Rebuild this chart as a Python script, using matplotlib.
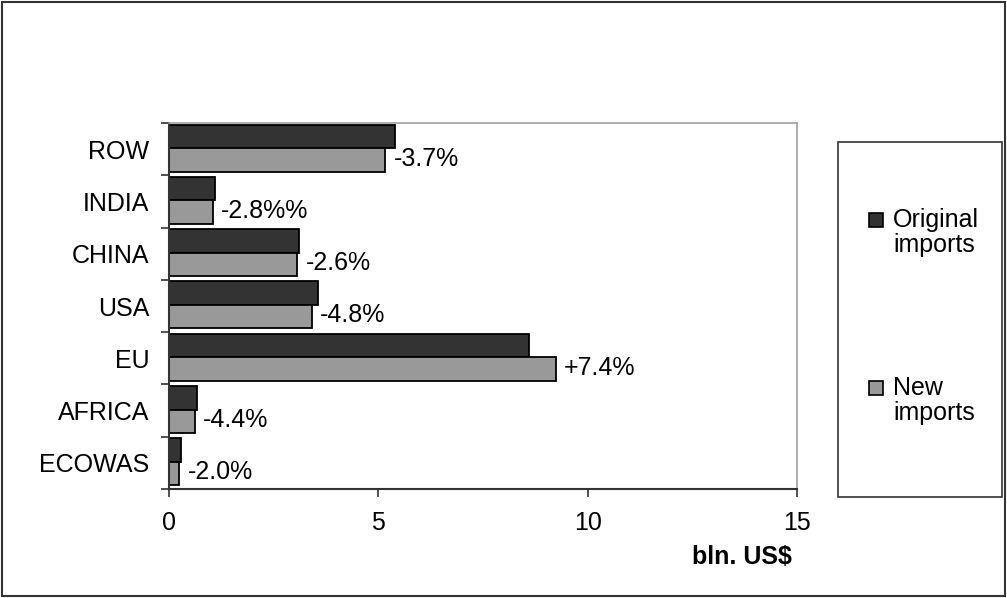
import matplotlib.pyplot as plt
from matplotlib.patches import Rectangle

plt.rcParams['font.family'] = ['Liberation Sans', 'DejaVu Sans']

# regions, bottom to top
regions = ["ECOWAS", "AFRICA", "EU", "USA", "CHINA", "INDIA", "ROW"]
original_imports = [0.29, 0.68, 8.61, 3.55, 3.11, 1.11, 5.41]
new_imports = [0.25, 0.62, 9.24, 3.41, 3.06, 1.05, 5.17]
change_labels = ["-2.0%", "-4.4%", "+7.4%", "-4.8%", "-2.6%", "-2.8%%", "-3.7%"]
series_names = [["Original", "imports"], ["New", "imports"]]

dark = "#333333"
light = "#999999"
fs = 18

W, H = 1007, 598
fig = plt.figure(figsize=(W / 100, H / 100), dpi=100)
ax = fig.add_axes([169 / W, 1 - 489 / H, 628 / W, 366 / H])

pos = list(range(len(regions)))
h = 0.45
ax.barh([p + 0.245 for p in pos], original_imports, height=h, color=dark,
        edgecolor="black", linewidth=1.3)
ax.barh([p - 0.205 for p in pos], new_imports, height=h, color=light,
        edgecolor="black", linewidth=1.3)

for p, v, s in zip(pos, new_imports, change_labels):
    ax.text(v + 0.2, p - 0.18, s, ha="left", va="center", fontsize=fs)

ax.set_xlim(0, 15)
ax.set_ylim(-0.5, len(regions) - 0.5)
ax.set_xticks([0, 5, 10, 15])
ax.tick_params(axis="x", direction="out", length=6, width=1.2, pad=10,
               labelsize=fs, color="#333333")

# category boundaries get tick marks, names sit between them
ax.set_yticks([p - 0.5 for p in range(len(regions) + 1)])
ax.set_yticklabels([])
ax.set_yticks(pos, minor=True)
ax.set_yticklabels(regions, minor=True, fontsize=fs)
ax.tick_params(axis="y", which="major", direction="out", length=6, width=1.2,
               color="#333333")
ax.tick_params(axis="y", which="minor", length=0, pad=14)

for side in ["left", "bottom"]:
    ax.spines[side].set_color("#333333")
    ax.spines[side].set_linewidth(1.5)
for side in ["top", "right"]:
    ax.spines[side].set_color("#a0a0a0")
    ax.spines[side].set_linewidth(1.2)

ax.set_xlabel("bln. US$", fontsize=fs, fontweight="bold", ha="right",
              va="center")
ax.xaxis.set_label_coords(0.992, -0.186)

# legend box with two entries
fig.add_artist(Rectangle((838 / W, 1 - 497 / H), 164 / W, 355 / H,
                         transform=fig.transFigure, fill=False,
                         edgecolor="#333333", linewidth=1.2))
for color, lines, y in zip([dark, light], series_names, [220, 388]):
    fig.add_artist(Rectangle((869 / W, 1 - (y + 7) / H), 14 / W, 14 / H,
                             transform=fig.transFigure, facecolor=color,
                             edgecolor="black", linewidth=1.2))
    for k, line in enumerate(lines):
        fig.text(893 / W, 1 - (y + 25 * k) / H, line, fontsize=fs,
                 ha="left", va="center")

# outer frame
fig.add_artist(Rectangle((0.002, 0.003), 0.996, 0.994,
                         transform=fig.transFigure, fill=False,
                         edgecolor="#333333", linewidth=1.5))

fig.savefig("out.png", dpi=100)
